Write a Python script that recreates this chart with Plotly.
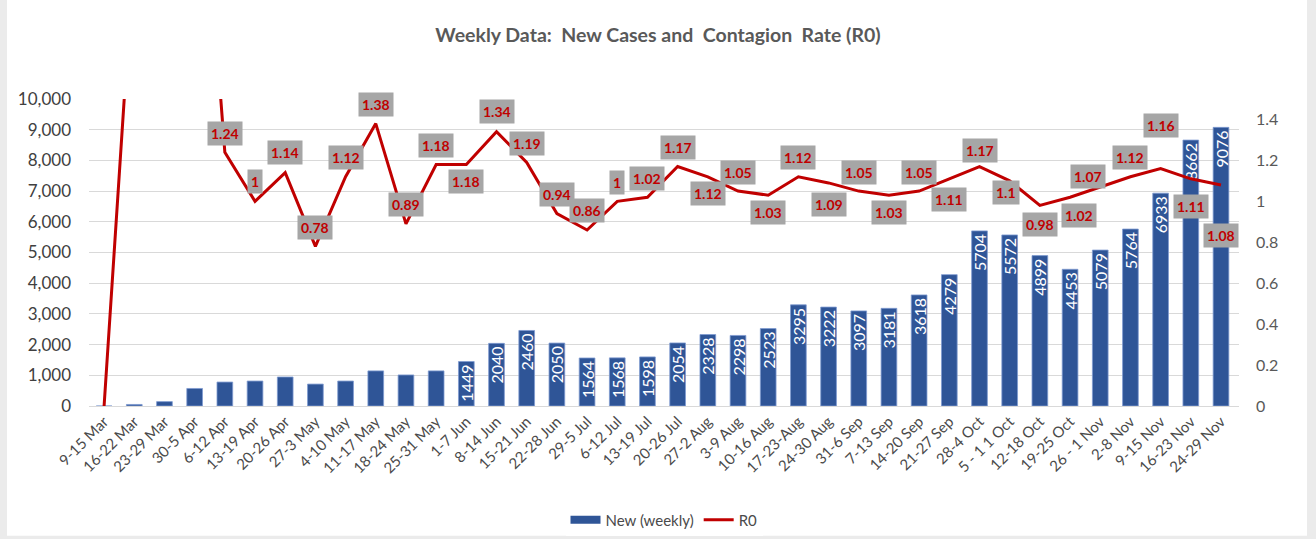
import plotly.graph_objects as go

categories = ["9-15 Mar", "16-22 Mar", "23-29 Mar", "30-5 Apr", "6-12 Apr", "13-19 Apr",
              "20-26 Apr", "27-3 May", "4-10 May", "11-17 May", "18-24 May", "25-31 May",
              "1-7 Jun", "8-14 Jun", "15-21 Jun", "22-28 Jun", "29-5 Jul", "6-12 Jul",
              "13-19 Jul", "20-26 Jul", "27-2 Aug", "3-9 Aug", "10-16 Aug", "17-23-Aug",
              "24-30 Aug", "31-6 Sep", "7-13 Sep", "14-20 Sep", "21-27 Sep", "28-4 Oct",
              "5 - 1 1 Oct", "12-18 Oct", "19-25 Oct", "26 - 1 Nov", "2-8 Nov", "9-15 Nov",
              "16-23 Nov", "24-29 Nov"]

new_weekly = [0, 50, 143, 571, 780, 813, 945, 714, 813, 1143, 1011, 1143,
              1449, 2040, 2460, 2050, 1564, 1568, 1598, 2054, 2328, 2298, 2523, 3295,
              3222, 3097, 3181, 3618, 4279, 5704, 5572, 4899, 4453, 5079, 5764, 6933,
              8662, 9076]

r0 = [0, 2.25, 2.8, 3.17, 1.24, 1, 1.14, 0.78, 1.12, 1.38, 0.89, 1.18,
      1.18, 1.34, 1.19, 0.94, 0.86, 1, 1.02, 1.17, 1.12, 1.05, 1.03, 1.12,
      1.09, 1.05, 1.03, 1.05, 1.11, 1.17, 1.1, 0.98, 1.02, 1.07, 1.12, 1.16,
      1.11, 1.08]

# label placement (pixels; positive = below the point), styles only
label_dy = [None, None, None, None, -19, -20, -20, -19, -19, -19, -19, -19,
            17, -20, -19, -19, -19, -19, -19, -19, 17, -19, 17, -19,
            22, -19, 17, -19, 21, -16, 12, 19, 18.5, -11, -19, -43, 28, 51]
label_dx = [0] * 38
label_dx[30] = -4
label_dx[32] = 9
label_dx[33] = -12

bar_text = [str(v) if i >= 12 else "" for i, v in enumerate(new_weekly)]

FONT = "Lato"
GRAY = "#595959"
BLUE = "#2F5597"
RED = "#C00000"

fig = go.Figure()
fig.add_trace(go.Bar(
    x=categories, y=new_weekly, name="New (weekly)", showlegend=False,
    marker=dict(color=BLUE, line=dict(width=0.8, color="#7F9BD0")),
    text=bar_text, textposition="inside", insidetextanchor="end",
    textangle=-90, constraintext="none",
    insidetextfont=dict(color="white", size=16, family=FONT),
    yaxis="y", hoverinfo="skip"
))
# legend entry drawn as a wide swatch (as in the reference)
fig.add_trace(go.Scatter(
    x=[None], y=[None], name="New (weekly)", mode="lines",
    line=dict(color=BLUE, width=8), yaxis="y", hoverinfo="skip"
))
fig.add_trace(go.Scatter(
    x=categories, y=r0, name="R0", mode="lines",
    line=dict(color=RED, width=3), yaxis="y2", hoverinfo="skip"
))

annotations = []
for i, (c, v) in enumerate(zip(categories, r0)):
    if label_dy[i] is None:
        continue
    annotations.append(dict(
        x=c, y=v, xref="x", yref="y2", text=f"<b>{v:g}</b>", showarrow=False,
        bgcolor="#A6A6A6", borderpad=3,
        font=dict(color=RED, size=14, family=FONT),
        xshift=label_dx[i], yshift=-label_dy[i]
    ))

# light frame strips around the chart
shapes = []
for (x0, x1, y0, y1) in [(-0.0774, -0.0713, -0.4332, 1.3225),
                         (1.0591, 1.0783, -0.4332, 1.3225),
                         (-0.0774, 1.0783, -0.4332, -0.4230)]:
    shapes.append(dict(type="rect", xref="paper", yref="paper", x0=x0, x1=x1,
                       y0=y0, y1=y1, fillcolor="#EBEBEB", line=dict(width=0),
                       layer="below"))

fig.update_layout(
    width=1316, height=539,
    margin=dict(l=89, r=77, t=99, b=133, autoexpand=False),
    paper_bgcolor="white", plot_bgcolor="white",
    title=dict(text="<b>Weekly Data:  New Cases and  Contagion  Rate (R0)</b>",
               x=0.5, xanchor="center", y=1 - 35 / 539, yanchor="middle",
               yref="container",
               font=dict(family=FONT, size=19.5, color=GRAY)),
    bargap=0.48,
    xaxis=dict(tickangle=-45, tickfont=dict(family=FONT, size=15, color="#4A4A4A"),
               showgrid=False, showline=True, linecolor="#D9D9D9", linewidth=1,
               ticks="", automargin=False),
    yaxis=dict(range=[0, 10000], tickvals=list(range(0, 10001, 1000)),
               tickformat=",d", tickfont=dict(family=FONT, size=17, color="#404040"),
               showgrid=True, gridcolor="#D9D9D9", gridwidth=1, zeroline=False,
               ticks="", ticklabelstandoff=17, automargin=False),
    yaxis2=dict(range=[0, 1.5], tickvals=[0, 0.2, 0.4, 0.6, 0.8, 1, 1.2, 1.4],
                ticktext=["0", "0.2", "0.4", "0.6", "0.8", "1", "1.2", "1.4"],
                overlaying="y", side="right", showgrid=False, zeroline=False,
                tickfont=dict(family=FONT, size=16, color=GRAY), ticks="",
                ticklabelstandoff=16, automargin=False),
    legend=dict(orientation="h", x=0.5, xanchor="center", y=-0.371,
                yanchor="middle", font=dict(family=FONT, size=15, color="#4A4A4A"),
                traceorder="normal", itemwidth=30),
    annotations=annotations, shapes=shapes,
)

fig.write_html("out.html",
               config={"displayModeBar": False},
               post_script="document.body.style.margin='0';"
                           "document.body.style.overflow='hidden';")
